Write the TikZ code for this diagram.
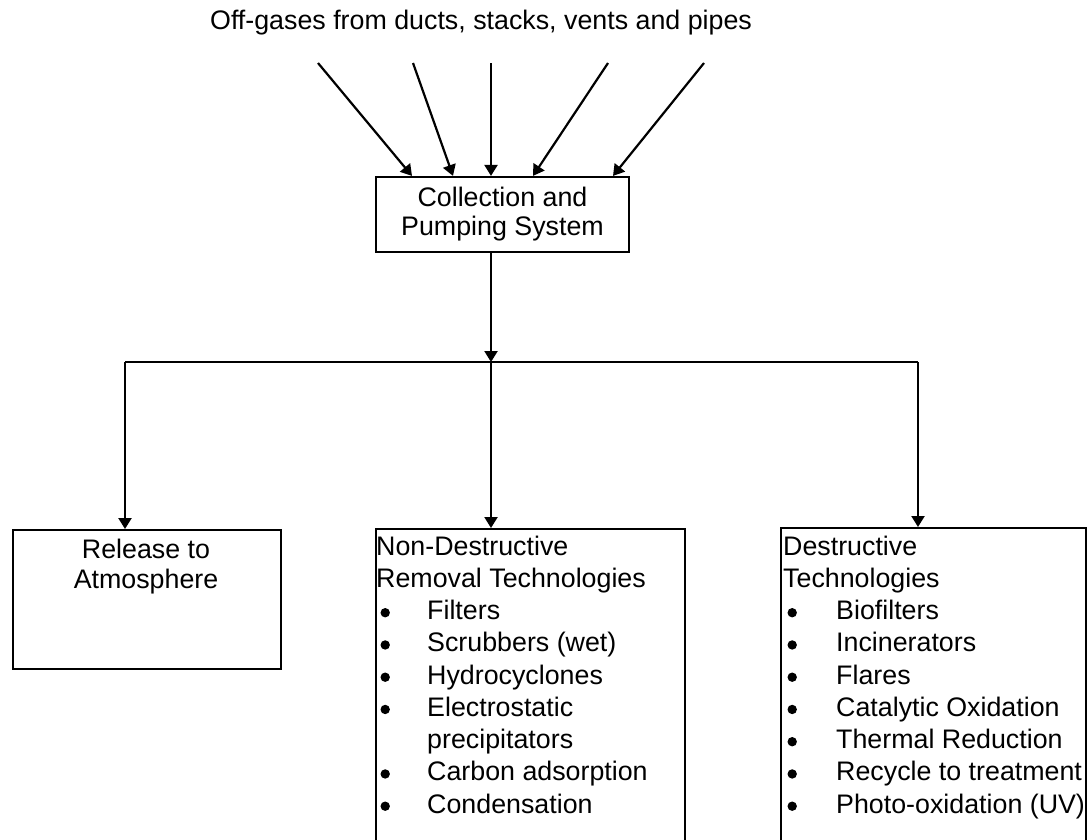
\documentclass[tikz,border=0pt]{standalone}
\usepackage{fontspec}
\setmainfont{Liberation Sans}
\usetikzlibrary{arrows.meta}
% round bullet followed by a fixed gap up to the item text
\newcommand\itembul[1]{\hspace*{4.3pt}\makebox[#1][l]{\tikz[baseline=0pt]\fill (4.7pt,6.8pt) circle[radius=4.7pt];}}
\begin{document}
\begin{tikzpicture}[x=1pt,y=-1pt,
  line width=2.2pt,
  arr/.style={-{Triangle[length=11pt,width=13pt]}},
  box/.style={draw, line width=2.2pt, inner sep=0pt, anchor=north west},
  lbl/.style={font=\fontsize{26.8}{32.25}\selectfont, inner sep=0pt},
]
\useasboundingbox (0,0) rectangle (1087,839);
\clip (0,0) rectangle (1087,839);

% heading
\node[lbl, anchor=base] (title) at (481,29) {Off-gases from ducts, stacks, vents and pipes};

% collection box
\node[box, anchor=center, minimum width=253pt, minimum height=75pt,
      align=center, font=\fontsize{26.8}{29}\selectfont] (coll) at (502.5,214.5)
      {Collection and\\Pumping System};

% incoming off-gas lines
\coordinate (src1) at (318,63);
\coordinate (src2) at (413,63);
\coordinate (src3) at (491,63);
\coordinate (src4) at (608,63);
\coordinate (src5) at (704,63);
\draw[arr] (src1) -- ([xshift=-90.5pt]coll.north);
\draw[arr] (src2) -- ([xshift=-49.5pt]coll.north);
\draw[arr] (src3) -- ([xshift=-11.5pt]coll.north);
\draw[arr] (src4) -- ([xshift=30.5pt]coll.north);
\draw[arr] (src5) -- ([xshift=110.5pt]coll.north);

% outlet boxes (text nodes are anchored on the baseline of their last line)
\node[box, minimum width=268pt, minimum height=139pt] (rel) at (12,529) {};
\node[lbl, anchor=base, align=center, font=\fontsize{26.8}{30}\selectfont]
      (reltext) at (146,588) {Release to\\Atmosphere};

\node[box, minimum width=309pt, minimum height=330pt] (nondes) at (375,528) {};
\node[lbl, anchor=base west, align=left] (nondestext) at (376,813)
  {Non-Destructive\\
   Removal Technologies\\
   \itembul{46.7pt}Filters\\
   \itembul{46.7pt}Scrubbers (wet)\\
   \itembul{46.7pt}Hydrocyclones\\
   \itembul{46.7pt}Electrostatic\\
   \hspace*{51pt}precipitators\\
   \itembul{46.7pt}Carbon adsorption\\
   \itembul{46.7pt}Condensation};

\node[box, minimum width=305pt, minimum height=330pt] (des) at (780,527) {};
\node[lbl, anchor=base west, align=left] (destext) at (783,813)
  {Destructive\\
   Technologies\\
   \itembul{48.7pt}Biofilters\\
   \itembul{48.7pt}Incinerators\\
   \itembul{48.7pt}Flares\\
   \itembul{48.7pt}Catalytic Oxidation\\
   \itembul{48.7pt}Thermal Reduction\\
   \itembul{48.7pt}Recycle to treatment\\
   \itembul{48.7pt}Photo-oxidation (UV)};

% distribution lines
\coordinate (jn) at (491,362);
\coordinate (busL) at (125,362);
\coordinate (busR) at (918,362);
\draw[arr] ([xshift=-11.5pt]coll.south) -- (jn);
\draw (busL) -- (busR);
\draw[arr] (busL) -- (busL |- rel.north);
\draw[arr] (jn) -- (jn |- nondes.north);
\draw[arr] (busR) -- (busR |- des.north);
\end{tikzpicture}
\end{document}
